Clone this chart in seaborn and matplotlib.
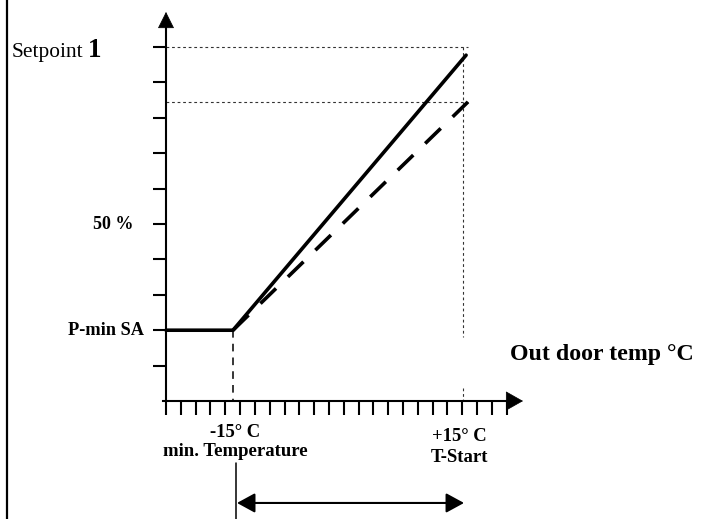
import numpy as np
import matplotlib
matplotlib.use("Agg")
import matplotlib.pyplot as plt
from matplotlib.lines import Line2D
import seaborn as sns

# --- curve data (outdoor temperature in °C, setpoint in scale steps) ---
T_MIN = -15.0          # min. Temperature
T_START = 15.0         # T-Start
P_MIN = 2.0            # P-min SA level
SETPOINT_1 = 10.0      # Setpoint 1 level
HALF = 5.0             # 50 % level

solid_temp = [-23.74, T_MIN, 15.4]
solid_setpoint = [P_MIN, P_MIN, 9.77]
dashed_temp = [T_MIN, 15.65]
dashed_setpoint = [P_MIN, 8.45]

y_ticks = list(range(1, 11))
n_x_ticks = 24

sns.set_style("white")
plt.rcParams["font.family"] = ["Liberation Serif", "DejaVu Serif"]
plt.rcParams["text.color"] = "black"

fig = plt.figure(figsize=(7.08, 5.19), dpi=100)
ax = fig.add_axes([0, 0, 1, 1])
ax.set_facecolor("white")
ax.set_xlim(-45.39, 46.95)
ax.set_ylim(-3.333, 11.328)

x_origin = solid_temp[0]
x_axis_end = 20.87
y_axis_end = 10.56

# axes as arrows through the origin
for side in ("top", "right"):
    ax.spines[side].set_visible(False)
ax.spines["left"].set_position(("data", x_origin))
ax.spines["left"].set_bounds(0, y_axis_end)
ax.spines["bottom"].set_position(("data", 0))
ax.spines["bottom"].set_bounds(-24.13, x_axis_end)
for side in ("left", "bottom"):
    ax.spines[side].set_color("black")
    ax.spines[side].set_linewidth(1.5)

ax.set_yticks(y_ticks)
ax.set_xticks(np.linspace(x_origin, x_origin + 23 * 1.932, n_x_ticks))
ax.tick_params(axis="y", direction="out", length=9.4, width=1.5, color="black",
               labelleft=False, left=True)
ax.tick_params(axis="x", direction="out", length=10, width=1.5, color="black",
               labelbottom=False, bottom=True)

head = dict(color="black", lw=0.5, shrinkA=0, shrinkB=0)
ax.annotate("", xy=(x_origin, 10.99), xytext=(x_origin, y_axis_end),
            arrowprops=dict(arrowstyle="-|>,head_length=1.08,head_width=0.54",
                            mutation_scale=10, **head))
ax.annotate("", xy=(22.82, 0), xytext=(x_axis_end, 0),
            arrowprops=dict(arrowstyle="-|>,head_length=1.15,head_width=0.65",
                            mutation_scale=10, **head))

# guide lines
dot = dict(color="#333333", lw=0.8, linestyle=(0, (2.5, 2.5)))
ax.plot([x_origin, dashed_temp[-1]], [SETPOINT_1, SETPOINT_1], **dot)
ax.plot([x_origin, dashed_temp[-1]], [dashed_setpoint[-1], dashed_setpoint[-1]], **dot)
ax.plot([T_START, T_START], [SETPOINT_1, 1.81], **dot)
ax.plot([T_START, T_START], [0.37, 0], **dot)
ax.plot([T_MIN, T_MIN], [P_MIN, 0], color="black", lw=1.1, linestyle=(0, (5, 4)))

# setpoint curves
sns.lineplot(x=solid_temp, y=solid_setpoint, ax=ax, color="black", lw=2.6,
             sort=False, estimator=None)
sns.lineplot(x=dashed_temp, y=dashed_setpoint, ax=ax, color="black", lw=2.6,
             sort=False, estimator=None, linestyle=(0, (6.0, 4.6)))

# labels
ax.text(-43.83, 9.72, "Setpoint", fontsize=15.4, ha="left", va="baseline")
ax.text(-33.91, 9.72, "1", fontsize=19.5, fontweight="bold", ha="left", va="baseline")
ax.text(-28.04, HALF, "50 %", fontsize=13, fontweight="bold", ha="right", va="center")
ax.text(-26.61, P_MIN, "P-min SA", fontsize=13.2, fontweight="bold", ha="right", va="center")
ax.text(21.13, 1.30, "Out door temp °C", fontsize=17.2, fontweight="bold",
        ha="left", va="center")
ax.text(-14.74, -1.008, "-15° C", fontsize=13.4, fontweight="bold", ha="center", va="baseline")
ax.text(-14.74, -1.554, "min. Temperature", fontsize=13.5, fontweight="bold",
        ha="center", va="baseline")
ax.text(14.54, -1.14, "+15° C", fontsize=13.4, fontweight="bold", ha="center", va="baseline")
ax.text(14.6, -1.71, "T-Start", fontsize=13.5, fontweight="bold", ha="center", va="baseline")

# operating range arrow
ax.plot([-14.61, -14.61], [-1.75, -3.333], color="black", lw=1.1)
ax.annotate("", xy=(15.13, -2.88), xytext=(-14.48, -2.88),
            arrowprops=dict(arrowstyle="<|-|>,head_length=1.1,head_width=0.6",
                            mutation_scale=10, color="black", lw=1.5,
                            shrinkA=0, shrinkB=0))

# page frame on the left
fig.add_artist(Line2D([7 / 708, 7 / 708], [0, 1], transform=fig.transFigure,
                      color="black", lw=1.6))

fig.savefig("out.png", dpi=100, facecolor="white")
